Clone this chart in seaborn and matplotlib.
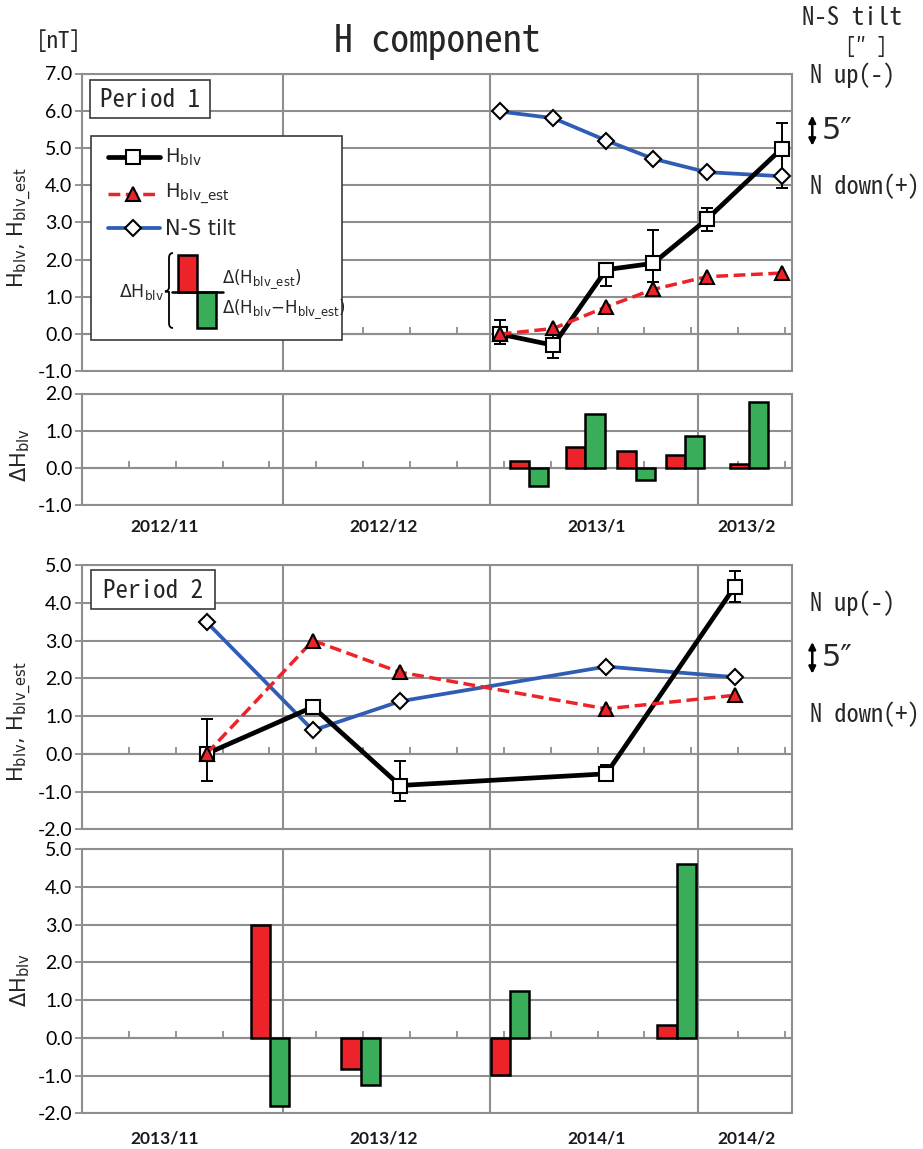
import matplotlib
matplotlib.use("Agg")
import numpy as np
import matplotlib.pyplot as plt
from matplotlib.patches import Rectangle, PathPatch
from matplotlib.path import Path
from matplotlib.ticker import MultipleLocator, FixedLocator, NullFormatter, FuncFormatter
from matplotlib.transforms import blended_transform_factory
import seaborn as sns

# ---------------------------------------------------------------- data
# x positions are days since the first day of the first month shown
MONTH_BOUNDS = [30, 61, 92]

# Period 1 (2012/11 - 2013/2)
p1_months = ["2012/11", "2012/12", "2013/1", "2013/2"]
p1_day = [62.4, 70.4, 78.3, 85.3, 93.3, 104.5]
p1_hblv = [0.0, -0.30, 1.73, 1.90, 3.08, 4.98]
p1_err_lo = [0.28, 0.35, 0.45, 0.50, 0.30, 1.05]
p1_err_hi = [0.38, 0.35, 0.15, 0.90, 0.30, 0.70]
p1_est = [0.0, 0.15, 0.73, 1.20, 1.54, 1.64]
p1_tilt = [5.98, 5.80, 5.20, 4.71, 4.35, 4.24]
p1_bar_day = [66.8, 75.2, 82.7, 90.1, 99.6]
p1_d_est = [0.18, 0.58, 0.47, 0.36, 0.11]
p1_d_resid = [-0.48, 1.46, -0.32, 0.86, 1.78]

# Period 2 (2013/11 - 2014/2)
p2_months = ["2013/11", "2013/12", "2014/1", "2014/2"]
p2_day = [18.6, 34.5, 47.5, 78.3, 97.5]
p2_hblv = [0.0, 1.24, -0.84, -0.53, 4.43]
p2_err_lo = [0.71, 0.10, 0.40, 0.10, 0.41]
p2_err_hi = [0.93, 0.10, 0.66, 0.22, 0.41]
p2_est = [0.0, 3.00, 2.16, 1.19, 1.55]
p2_tilt = [3.49, 0.62, 1.39, 2.31, 2.03]
p2_bar_day = [28.1, 41.6, 63.9, 88.8]
p2_d_est = [2.99, -0.83, -0.99, 0.34]
p2_d_resid = [-1.80, -1.26, 1.25, 4.60]

# ---------------------------------------------------------------- style
sns.set_theme(style="white")
plt.rcParams["font.family"] = ["DejaVu Sans"]
plt.rcParams["axes.unicode_minus"] = False
plt.rcParams["mathtext.default"] = "regular"

MONO = ["Noto Sans Mono CJK JP", "DejaVu Sans Mono"]
NUM = ["Lato", "DejaVu Sans"]
GRID = "#8e8e8e"
RED = "#ec2329"
GREEN = "#3aad5b"
BLUE = "#2f5db3"
BAR_W = 2.85
MONTH_LABEL_X = [12.4, 45.0, 76.8, 99.3]

W, H = 923, 1149
fig = plt.figure(figsize=(W / 100, H / 100), dpi=100)
fig.patch.set_facecolor("white")

X0, X1 = 82.0, 791.7


def panel(top, bottom):
    return fig.add_axes([X0 / W, 1 - bottom / H, (X1 - X0) / W, (bottom - top) / H])


def style_axis(ax, ymin, ymax):
    ax.set_xlim(0, 106)
    ax.set_ylim(ymin, ymax)
    ax.set_facecolor("white")
    ax.yaxis.set_major_locator(MultipleLocator(1))
    ax.yaxis.set_major_formatter(FuncFormatter(lambda v, p: f"{v:.1f}"))
    ax.xaxis.set_major_locator(FixedLocator(MONTH_BOUNDS))
    ax.xaxis.set_minor_locator(MultipleLocator(7))
    ax.xaxis.set_major_formatter(NullFormatter())
    ax.grid(True, which="major", axis="both", color=GRID, lw=1.5, zorder=0)
    ax.set_axisbelow(True)
    for side in ["left", "right", "top", "bottom"]:
        ax.spines[side].set_visible(True)
        ax.spines[side].set_color(GRID)
        ax.spines[side].set_linewidth(1.5)
    ax.spines["bottom"].set_position(("data", 0))
    ax.axhline(ymin, color=GRID, lw=1.5, clip_on=False, zorder=0.5)
    ax.tick_params(axis="y", which="major", left=True, direction="out", length=5,
                   width=1.3, color=GRID, labelsize=14, pad=2, labelcolor="black")
    ax.tick_params(axis="x", which="major", length=0)
    ax.tick_params(axis="x", which="minor", bottom=True, direction="in", length=5,
                   width=1.3, color=GRID)
    ax.set_xlabel("")
    ax.set_ylabel("")


def draw_lines(ax, day, hblv, lo, hi, est, tilt):
    ax.errorbar(day, hblv, yerr=[lo, hi], fmt="none", ecolor="black",
                elinewidth=1.4, capsize=4.2, capthick=1.4, zorder=3)
    sns.lineplot(x=day, y=tilt, ax=ax, color=BLUE, linewidth=2.7, marker="D",
                 markersize=8.5, markerfacecolor="white", markeredgecolor="black",
                 markeredgewidth=1.5, zorder=4)
    sns.lineplot(x=day, y=hblv, ax=ax, color="black", linewidth=3.4, marker="s",
                 markersize=10.5, markerfacecolor="white", markeredgecolor="black",
                 markeredgewidth=1.5, zorder=5)
    sns.lineplot(x=day, y=est, ax=ax, color=RED, linewidth=2.5,
                 linestyle=(0, (3.4, 1.6)), marker="^", markersize=10.5,
                 markerfacecolor=RED, markeredgecolor="black",
                 markeredgewidth=1.5, zorder=6)


def draw_bars(ax, bar_day, d_est, d_resid):
    x = np.asarray(bar_day)
    ax.bar(x - BAR_W / 2, d_est, width=BAR_W, color=RED, edgecolor="black",
           linewidth=1.8, zorder=3)
    ax.bar(x + BAR_W / 2, d_resid, width=BAR_W, color=GREEN, edgecolor="black",
           linewidth=1.8, zorder=3)


def tilt_scale(ax, up_y, arrow_lo, arrow_hi, down_y):
    tr = blended_transform_factory(ax.transAxes, ax.transData)
    ax.text(1.026, up_y, "N up(-)", transform=tr, ha="left", va="center",
            fontsize=17.5, family=MONO, clip_on=False)
    ax.text(1.026, down_y, "N down(+)", transform=tr, ha="left", va="center",
            fontsize=17.5, family=MONO, clip_on=False)
    ax.annotate("", xy=(1.029, arrow_lo), xytext=(1.029, arrow_hi),
                xycoords=tr, textcoords=tr,
                arrowprops=dict(arrowstyle="<|-|>", color="black", lw=1.8,
                                mutation_scale=10, shrinkA=0, shrinkB=0))
    ax.text(1.042, (arrow_lo + arrow_hi) / 2, "5\u2033", transform=tr,
            ha="left", va="center", fontsize=22, family=["DejaVu Sans"],
            clip_on=False)


# ---------------------------------------------------------------- panels
axA = panel(73.5, 371.3)
style_axis(axA, -1, 7)
draw_lines(axA, p1_day, p1_hblv, p1_err_lo, p1_err_hi, p1_est, p1_tilt)
tilt_scale(axA, 6.95, 5.06, 5.87, 3.98)

axB = panel(393.5, 505.5)
style_axis(axB, -1, 2)
draw_bars(axB, p1_bar_day, p1_d_est, p1_d_resid)

axC = panel(565.0, 829.3)
style_axis(axC, -2, 5)
draw_lines(axC, p2_day, p2_hblv, p2_err_lo, p2_err_hi, p2_est, p2_tilt)
tilt_scale(axC, 4.0, 2.12, 2.96, 1.05)

axD = panel(849.3, 1113.3)
style_axis(axD, -2, 5)
draw_bars(axD, p2_bar_day, p2_d_est, p2_d_resid)

for ax in (axA, axB, axC, axD):
    for lab in ax.get_yticklabels():
        lab.set_family(NUM)

# month names under the bar panels
for ax, labels, ypix in ((axB, p1_months, 527), (axD, p2_months, 1138)):
    tr = blended_transform_factory(ax.transData, fig.transFigure)
    for xm, lab in zip(MONTH_LABEL_X, labels):
        ax.text(xm, 1 - ypix / H, lab, transform=tr, ha="center", va="center",
                fontsize=12.5, family=NUM, fontweight="bold", color="#1a1a1a",
                clip_on=False)

# axis titles
fig.text(20 / W, 1 - 228 / H, "H$_{blv}$, H$_{blv\\_est}$", rotation=90,
         ha="center", va="center", fontsize=15)
fig.text(20 / W, 1 - 722 / H, "H$_{blv}$, H$_{blv\\_est}$", rotation=90,
         ha="center", va="center", fontsize=15)
fig.text(20 / W, 1 - 455 / H, "\u0394H$_{blv}$", rotation=90,
         ha="center", va="center", fontsize=15)
fig.text(20 / W, 1 - 980 / H, "\u0394H$_{blv}$", rotation=90,
         ha="center", va="center", fontsize=15)

fig.text(437 / W, 1 - 42 / H, "H component", ha="center", va="center",
         fontsize=27, family=MONO)
fig.text(59 / W, 1 - 42 / H, "[nT]", ha="center", va="center",
         fontsize=16.5, family=MONO)
fig.text(852 / W, 1 - 18 / H, "N-S tilt", ha="center", va="center",
         fontsize=18, family=MONO)
fig.text(866 / W, 1 - 47 / H, "[\u2033 ]", ha="center", va="center",
         fontsize=15.5, family=MONO)

# ---------------------------------------------------------------- overlay (pixel coordinates)
ov = fig.add_axes([0, 0, 1, 1], zorder=10)
ov.set_xlim(0, W)
ov.set_ylim(H, 0)
ov.axis("off")
ov.patch.set_alpha(0)

for (bx0, by0, bx1, by1, txt) in ((90, 80, 210, 118, "Period 1"),
                                  (90.7, 570, 215.3, 609, "Period 2")):
    ov.add_patch(Rectangle((bx0, by0), bx1 - bx0, by1 - by0, facecolor="white",
                           edgecolor="#3a3a3a", lw=1.2))
    ov.text((bx0 + bx1) / 2, (by0 + by1) / 2 + 1, txt, ha="center", va="center",
            fontsize=18, family=MONO)

# legend box
ov.add_patch(Rectangle((90.7, 136), 251, 204, facecolor="white",
                       edgecolor="#3a3a3a", lw=1.2))
ov.plot([108, 160], [156.7, 156.7], color="black", lw=3.4, solid_capstyle="round")
ov.plot([133], [156.7], marker="s", markersize=10.5, markerfacecolor="white",
        markeredgecolor="black", markeredgewidth=1.5)
ov.plot([108, 156], [194, 194], color=RED, lw=2.5, linestyle=(0, (3.4, 1.6)))
ov.plot([133], [194], marker="^", markersize=10.5, markerfacecolor=RED,
        markeredgecolor="black", markeredgewidth=1.5)
ov.plot([108, 160], [228.3, 228.3], color=BLUE, lw=2.7)
ov.plot([133], [228.3], marker="D", markersize=8.5, markerfacecolor="white",
        markeredgecolor="black", markeredgewidth=1.5)
ov.text(165, 157, "H$_{blv}$", ha="left", va="center", fontsize=14)
ov.text(165, 194, "H$_{blv\\_est}$", ha="left", va="center", fontsize=14)
ov.text(165, 229, "N-S tilt", ha="left", va="center", fontsize=15)

ov.add_patch(Rectangle((178.3, 255), 19, 36.7, facecolor=RED, edgecolor="black", lw=1.8))
ov.add_patch(Rectangle((197.3, 291.7), 18.7, 36.6, facecolor=GREEN, edgecolor="black", lw=1.8))
ov.plot([171.7, 223.3], [291.7, 291.7], color="black", lw=1.8)
brace = Path([(173, 253), (169, 253), (169, 258), (169, 287),
              (169, 291), (165, 291.5), (165, 291.5),
              (165, 291.5), (169, 292), (169, 296),
              (169, 323), (169, 328), (173, 328)],
             [Path.MOVETO, Path.CURVE3, Path.CURVE3, Path.LINETO,
              Path.CURVE3, Path.CURVE3, Path.LINETO,
              Path.CURVE3, Path.CURVE3, Path.LINETO,
              Path.LINETO, Path.CURVE3, Path.CURVE3])
ov.add_patch(PathPatch(brace, facecolor="none", edgecolor="black", lw=1.3))
ov.text(164, 292, "\u0394H$_{blv}$", ha="right", va="center", fontsize=12.5)
ov.text(222, 279, "\u0394(H$_{blv\\_est}$)", ha="left", va="center", fontsize=12)
ov.text(222, 309, "\u0394(H$_{blv}$\u2212H$_{blv\\_est}$)", ha="left", va="center",
        fontsize=12)

fig.savefig("out.png", dpi=100, facecolor="white")
